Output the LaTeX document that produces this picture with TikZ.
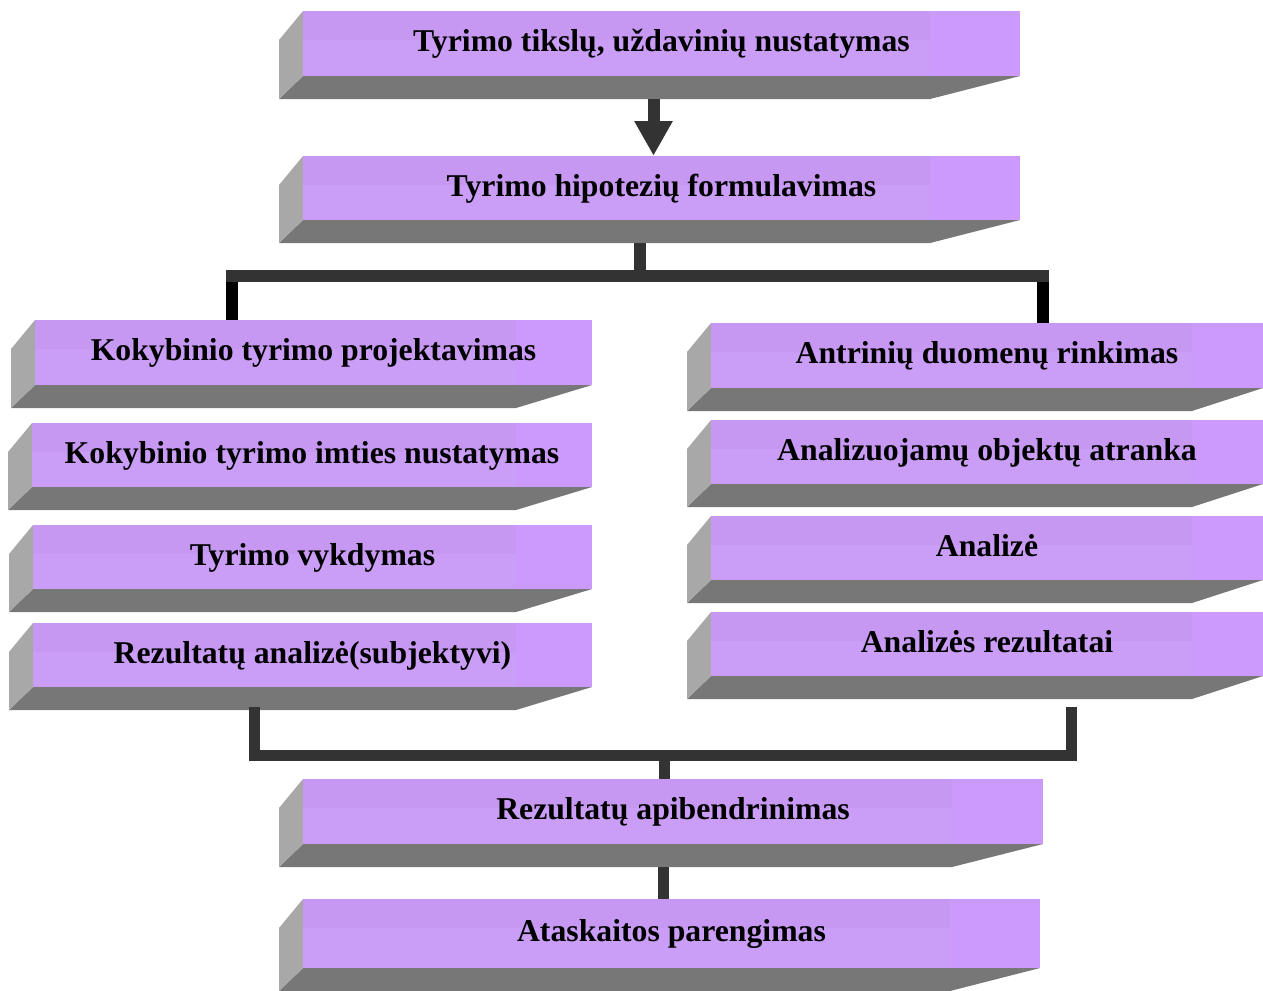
\documentclass[tikz,border=0pt]{standalone}
\usepackage{fontspec}
\setmainfont{Liberation Serif}
\usetikzlibrary{arrows.meta,calc}
\definecolor{sidegray}{HTML}{A8A8A8}
\definecolor{botgray}{HTML}{777777}
\definecolor{pupper}{HTML}{C698F1}
\definecolor{plower}{HTML}{CA9DF6}
\definecolor{pband}{HTML}{CC9AFD}
\definecolor{connc}{HTML}{333333}
\tikzset{
  sideface/.style={fill=sidegray},
  bottomface/.style={fill=botgray},
  faceupper/.style={fill=pupper},
  facelower/.style={fill=plower},
  faceband/.style={fill=pband},
  boxtext/.style={inner sep=0pt, text height=15.75pt, text depth=3.75pt,
    font=\fontsize{23.8pt}{28pt}\selectfont\bfseries},
  conn/.style={draw=connc, line width=9pt},
  connthin/.style={draw=connc, line width=8.25pt, line join=miter},
  dropline/.style={draw=black, line width=9pt},
  bigarrow/.style={draw=connc, fill=connc, line width=9pt,
    -{Triangle[width=27pt,length=26pt]}}
}
\newcommand\pbox[7]{%
  \fill[bottomface] (#2,#5) -- (#4,#5) -- (#4-#6,#5+23) -- (#2-24,#5+23) -- cycle;
  \fill[sideface] (#2,#3) -- (#2-24,#3+29) -- (#2-24,#5+23) -- (#2,#5) -- cycle;
  \fill[faceupper] (#2,#3) rectangle (#4-#6,#3+29);
  \fill[facelower] (#2,#3+29) rectangle (#4-#6,#5);
  \fill[faceband] (#4-#6,#3) rectangle (#4,#5);
  \node[boxtext, minimum width={(#4-#2)*0.75pt}, minimum height={(#5-#3)*0.75pt}]
    (#1) at ({(#2+#4)/2},{(#3+#5)/2}) {#7};
}
\begin{document}
\begin{tikzpicture}[x=0.75pt,y=-0.75pt]
\useasboundingbox (0,0) rectangle (1263,990);
% boxes
\pbox{b1}{303}{11}{1020}{76}{90}{Tyrimo tikslų, uždavinių nustatymas}
\pbox{b2}{303}{156}{1020}{220}{90}{Tyrimo hipotezių formulavimas}
\pbox{b3}{35}{320}{592}{385}{76}{Kokybinio tyrimo projektavimas}
\pbox{b4}{32}{423}{592}{487}{76}{Kokybinio tyrimo imties nustatymas}
\pbox{b5}{33}{525}{592}{589}{76}{Tyrimo vykdymas}
\pbox{b6}{33}{623}{592}{687}{76}{Rezultatų analizė(subjektyvi)}
\pbox{b7}{711}{323}{1263}{388}{71}{Antrinių duomenų rinkimas}
\pbox{b8}{711}{420}{1263}{484}{71}{Analizuojamų objektų atranka}
\pbox{b9}{711}{516}{1263}{580}{71}{Analizė}
\pbox{b10}{711}{612}{1263}{676}{71}{Analizės rezultatai}
\pbox{b11}{303}{779}{1043}{844}{91}{Rezultatų apibendrinimas}
\pbox{b12}{303}{899}{1040}{968}{90}{Ataskaitos parengimas}
% connectors
\draw[bigarrow] ($(b1.south)+(-8,23)$) -- ($(b2.north)+(-8,0)$);
\coordinate (jT) at (640,276);
\coordinate (jL) at (232,276);
\coordinate (jR) at (1043,276);
\draw[conn] ($(b2.south -| jT)+(0,23)$) -- (jT);
\draw[dropline] ($(jL)+(0,-4)$) -- (jL |- b3.north);
\draw[dropline] ($(jR)+(0,4)$) -- (jR |- b7.north);
\draw[conn, line cap=rect] (jL) -- (jR);
\coordinate (kL) at (254.5,755.5);
\coordinate (kR) at (1071.5,755.5);
\coordinate (kM) at (664,755.5);
\draw[connthin] ($(b6.south -| kL)+(0,20)$) -- (kL) -- (kR) -- ($(b10.south -| kR)+(0,31)$);
\draw[connthin] (kM) -- (kM |- b11.north);
\draw[connthin] ($(b11.south)+(-9.5,23)$) -- ($(b12.north)+(-8,0)$);
\end{tikzpicture}
\end{document}
